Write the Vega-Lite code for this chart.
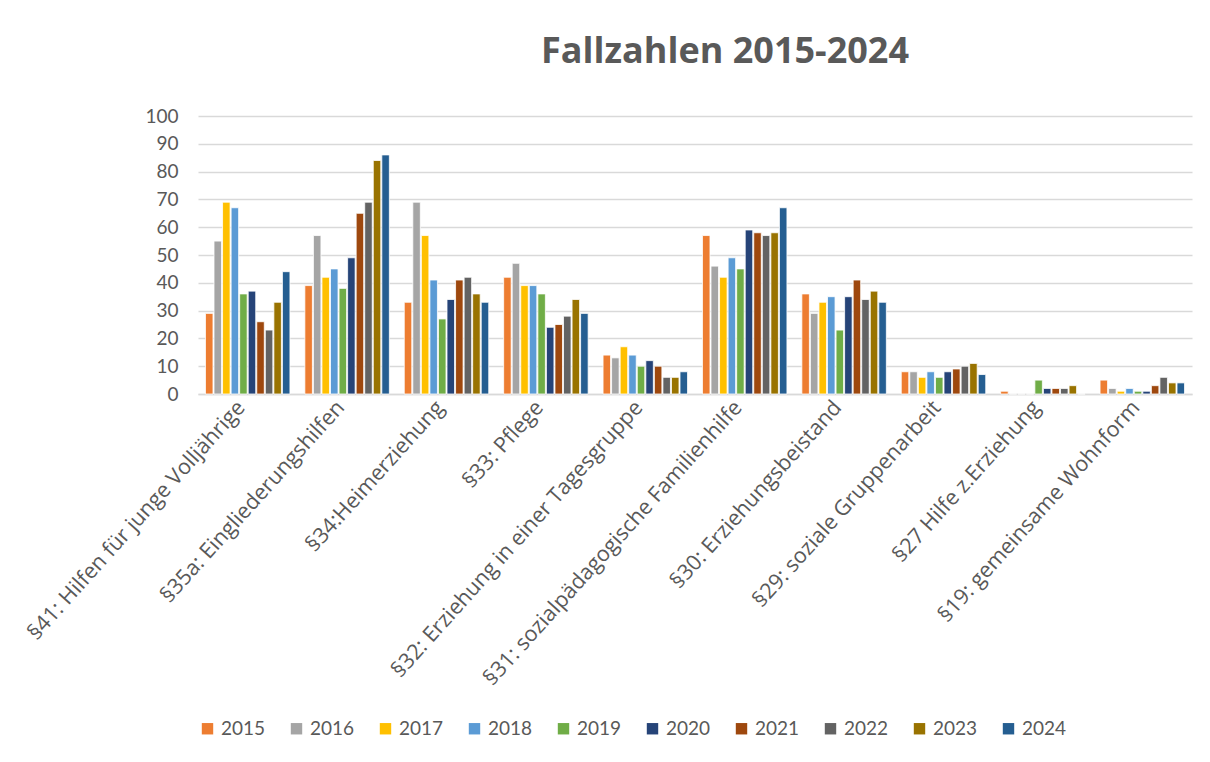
{
  "$schema": "https://vega.github.io/schema/vega-lite/v6.json",
  "width": 994,
  "height": 278,
  "padding": {"left": 23, "top": 34, "right": 10, "bottom": 10},
  "background": "white",
  "title": {"text": "Fallzahlen 2015-2024", "fontSize": 36, "font": "Open Sans", "fontWeight": "bold", "color": "#595959", "anchor": "middle", "offset": 36, "dx": 30},
  "config": {"view": {"stroke": null}, "font": "Lato"},
  "data": {"values": [
    {"cat": "§41: Hilfen für junge Volljährige", "year": "2015", "value": 29},
    {"cat": "§41: Hilfen für junge Volljährige", "year": "2016", "value": 55},
    {"cat": "§41: Hilfen für junge Volljährige", "year": "2017", "value": 69},
    {"cat": "§41: Hilfen für junge Volljährige", "year": "2018", "value": 67},
    {"cat": "§41: Hilfen für junge Volljährige", "year": "2019", "value": 36},
    {"cat": "§41: Hilfen für junge Volljährige", "year": "2020", "value": 37},
    {"cat": "§41: Hilfen für junge Volljährige", "year": "2021", "value": 26},
    {"cat": "§41: Hilfen für junge Volljährige", "year": "2022", "value": 23},
    {"cat": "§41: Hilfen für junge Volljährige", "year": "2023", "value": 33},
    {"cat": "§41: Hilfen für junge Volljährige", "year": "2024", "value": 44},
    {"cat": "§35a: Eingliederungshilfen", "year": "2015", "value": 39},
    {"cat": "§35a: Eingliederungshilfen", "year": "2016", "value": 57},
    {"cat": "§35a: Eingliederungshilfen", "year": "2017", "value": 42},
    {"cat": "§35a: Eingliederungshilfen", "year": "2018", "value": 45},
    {"cat": "§35a: Eingliederungshilfen", "year": "2019", "value": 38},
    {"cat": "§35a: Eingliederungshilfen", "year": "2020", "value": 49},
    {"cat": "§35a: Eingliederungshilfen", "year": "2021", "value": 65},
    {"cat": "§35a: Eingliederungshilfen", "year": "2022", "value": 69},
    {"cat": "§35a: Eingliederungshilfen", "year": "2023", "value": 84},
    {"cat": "§35a: Eingliederungshilfen", "year": "2024", "value": 86},
    {"cat": "§34:Heimerziehung", "year": "2015", "value": 33},
    {"cat": "§34:Heimerziehung", "year": "2016", "value": 69},
    {"cat": "§34:Heimerziehung", "year": "2017", "value": 57},
    {"cat": "§34:Heimerziehung", "year": "2018", "value": 41},
    {"cat": "§34:Heimerziehung", "year": "2019", "value": 27},
    {"cat": "§34:Heimerziehung", "year": "2020", "value": 34},
    {"cat": "§34:Heimerziehung", "year": "2021", "value": 41},
    {"cat": "§34:Heimerziehung", "year": "2022", "value": 42},
    {"cat": "§34:Heimerziehung", "year": "2023", "value": 36},
    {"cat": "§34:Heimerziehung", "year": "2024", "value": 33},
    {"cat": "§33: Pflege", "year": "2015", "value": 42},
    {"cat": "§33: Pflege", "year": "2016", "value": 47},
    {"cat": "§33: Pflege", "year": "2017", "value": 39},
    {"cat": "§33: Pflege", "year": "2018", "value": 39},
    {"cat": "§33: Pflege", "year": "2019", "value": 36},
    {"cat": "§33: Pflege", "year": "2020", "value": 24},
    {"cat": "§33: Pflege", "year": "2021", "value": 25},
    {"cat": "§33: Pflege", "year": "2022", "value": 28},
    {"cat": "§33: Pflege", "year": "2023", "value": 34},
    {"cat": "§33: Pflege", "year": "2024", "value": 29},
    {"cat": "§32: Erziehung in einer Tagesgruppe", "year": "2015", "value": 14},
    {"cat": "§32: Erziehung in einer Tagesgruppe", "year": "2016", "value": 13},
    {"cat": "§32: Erziehung in einer Tagesgruppe", "year": "2017", "value": 17},
    {"cat": "§32: Erziehung in einer Tagesgruppe", "year": "2018", "value": 14},
    {"cat": "§32: Erziehung in einer Tagesgruppe", "year": "2019", "value": 10},
    {"cat": "§32: Erziehung in einer Tagesgruppe", "year": "2020", "value": 12},
    {"cat": "§32: Erziehung in einer Tagesgruppe", "year": "2021", "value": 10},
    {"cat": "§32: Erziehung in einer Tagesgruppe", "year": "2022", "value": 6},
    {"cat": "§32: Erziehung in einer Tagesgruppe", "year": "2023", "value": 6},
    {"cat": "§32: Erziehung in einer Tagesgruppe", "year": "2024", "value": 8},
    {"cat": "§31: sozialpädagogische Familienhilfe", "year": "2015", "value": 57},
    {"cat": "§31: sozialpädagogische Familienhilfe", "year": "2016", "value": 46},
    {"cat": "§31: sozialpädagogische Familienhilfe", "year": "2017", "value": 42},
    {"cat": "§31: sozialpädagogische Familienhilfe", "year": "2018", "value": 49},
    {"cat": "§31: sozialpädagogische Familienhilfe", "year": "2019", "value": 45},
    {"cat": "§31: sozialpädagogische Familienhilfe", "year": "2020", "value": 59},
    {"cat": "§31: sozialpädagogische Familienhilfe", "year": "2021", "value": 58},
    {"cat": "§31: sozialpädagogische Familienhilfe", "year": "2022", "value": 57},
    {"cat": "§31: sozialpädagogische Familienhilfe", "year": "2023", "value": 58},
    {"cat": "§31: sozialpädagogische Familienhilfe", "year": "2024", "value": 67},
    {"cat": "§30: Erziehungsbeistand", "year": "2015", "value": 36},
    {"cat": "§30: Erziehungsbeistand", "year": "2016", "value": 29},
    {"cat": "§30: Erziehungsbeistand", "year": "2017", "value": 33},
    {"cat": "§30: Erziehungsbeistand", "year": "2018", "value": 35},
    {"cat": "§30: Erziehungsbeistand", "year": "2019", "value": 23},
    {"cat": "§30: Erziehungsbeistand", "year": "2020", "value": 35},
    {"cat": "§30: Erziehungsbeistand", "year": "2021", "value": 41},
    {"cat": "§30: Erziehungsbeistand", "year": "2022", "value": 34},
    {"cat": "§30: Erziehungsbeistand", "year": "2023", "value": 37},
    {"cat": "§30: Erziehungsbeistand", "year": "2024", "value": 33},
    {"cat": "§29: soziale Gruppenarbeit", "year": "2015", "value": 8},
    {"cat": "§29: soziale Gruppenarbeit", "year": "2016", "value": 8},
    {"cat": "§29: soziale Gruppenarbeit", "year": "2017", "value": 6},
    {"cat": "§29: soziale Gruppenarbeit", "year": "2018", "value": 8},
    {"cat": "§29: soziale Gruppenarbeit", "year": "2019", "value": 6},
    {"cat": "§29: soziale Gruppenarbeit", "year": "2020", "value": 8},
    {"cat": "§29: soziale Gruppenarbeit", "year": "2021", "value": 9},
    {"cat": "§29: soziale Gruppenarbeit", "year": "2022", "value": 10},
    {"cat": "§29: soziale Gruppenarbeit", "year": "2023", "value": 11},
    {"cat": "§29: soziale Gruppenarbeit", "year": "2024", "value": 7},
    {"cat": "§27 Hilfe z.Erziehung", "year": "2015", "value": 1},
    {"cat": "§27 Hilfe z.Erziehung", "year": "2016", "value": 0},
    {"cat": "§27 Hilfe z.Erziehung", "year": "2017", "value": 0},
    {"cat": "§27 Hilfe z.Erziehung", "year": "2018", "value": 0},
    {"cat": "§27 Hilfe z.Erziehung", "year": "2019", "value": 5},
    {"cat": "§27 Hilfe z.Erziehung", "year": "2020", "value": 2},
    {"cat": "§27 Hilfe z.Erziehung", "year": "2021", "value": 2},
    {"cat": "§27 Hilfe z.Erziehung", "year": "2022", "value": 2},
    {"cat": "§27 Hilfe z.Erziehung", "year": "2023", "value": 3},
    {"cat": "§27 Hilfe z.Erziehung", "year": "2024", "value": 0},
    {"cat": "§19: gemeinsame Wohnform", "year": "2015", "value": 5},
    {"cat": "§19: gemeinsame Wohnform", "year": "2016", "value": 2},
    {"cat": "§19: gemeinsame Wohnform", "year": "2017", "value": 1},
    {"cat": "§19: gemeinsame Wohnform", "year": "2018", "value": 2},
    {"cat": "§19: gemeinsame Wohnform", "year": "2019", "value": 1},
    {"cat": "§19: gemeinsame Wohnform", "year": "2020", "value": 1},
    {"cat": "§19: gemeinsame Wohnform", "year": "2021", "value": 3},
    {"cat": "§19: gemeinsame Wohnform", "year": "2022", "value": 6},
    {"cat": "§19: gemeinsame Wohnform", "year": "2023", "value": 4},
    {"cat": "§19: gemeinsame Wohnform", "year": "2024", "value": 4}
  ]},
  "mark": {"type": "bar", "stroke": "white", "strokeWidth": 0.8},
  "encoding": {
    "x": {
      "field": "cat", "type": "nominal", "sort": null, "title": null,
      "scale": {"paddingInner": 0.15, "paddingOuter": 0.075},
      "axis": {"labelAngle": -48, "labelFontSize": 21.5, "labelColor": "#595959", "labelFont": "Open Sans", "ticks": false, "domainColor": "#d9d9d9", "domainWidth": 1.5, "labelPadding": 10, "labelOffset": -6, "labelLimit": 0}
    },
    "xOffset": {"field": "year", "type": "nominal", "scale": {"paddingInner": 0.12}},
    "y": {
      "field": "value", "type": "quantitative", "title": null,
      "scale": {"domain": [0, 100]},
      "axis": {"values": [0, 10, 20, 30, 40, 50, 60, 70, 80, 90, 100], "labelFontSize": 19, "labelColor": "#595959", "labelFont": "Lato", "ticks": false, "domain": false, "gridColor": "#d9d9d9", "gridWidth": 1.5, "labelPadding": 20}
    },
    "color": {
      "field": "year", "type": "nominal", "title": null,
      "scale": {"domain": ["2015","2016","2017","2018","2019","2020","2021","2022","2023","2024"],
                "range": ["#ED7D31","#A5A5A5","#FFC000","#5B9BD5","#70AD47","#264478","#9E480E","#636363","#997300","#255E91"]},
      "legend": {"orient": "bottom", "direction": "horizontal", "columns": 10, "symbolType": "square", "symbolSize": 130, "symbolStrokeWidth": 0, "labelFontSize": 19, "labelColor": "#595959", "labelFont": "Lato", "columnPadding": 21, "offset": 29}
    }
  }
}
